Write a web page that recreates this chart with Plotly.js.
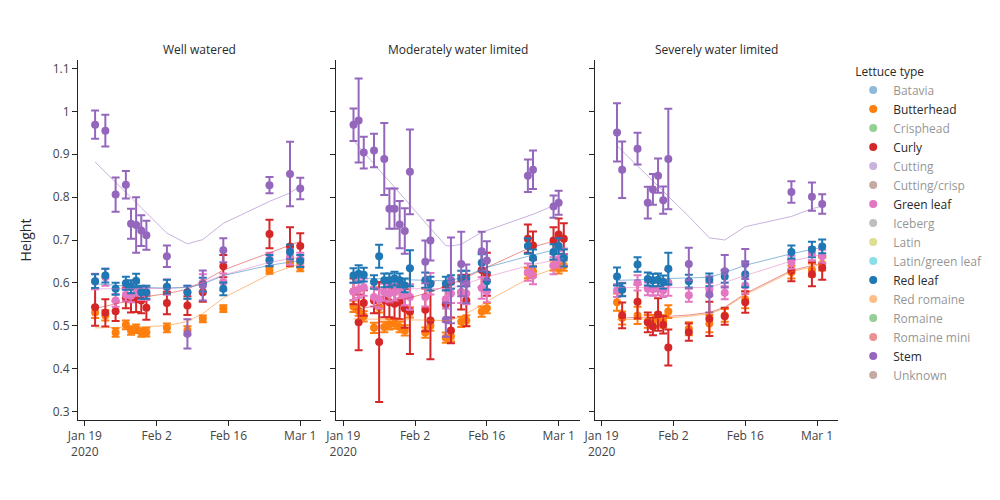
<!DOCTYPE html>
<html>
<head>
<meta charset="utf-8">
<script src="https://cdn.plot.ly/plotly-3.0.1.min.js"></script>
<style>html,body{margin:0;padding:0;background:#fff}</style>
</head>
<body>
<div id="chart" style="width:1000px;height:500px"></div>
<script>
// ---------- categories ----------
const lettuceTypes = ['Batavia','Butterhead','Crisphead','Curly','Cutting','Cutting/crisp','Green leaf','Iceberg','Latin','Latin/green leaf','Red leaf','Red romaine','Romaine','Romaine mini','Stem','Unknown'];
const typeColors = ['#1f77b4','#ff7f0e','#2ca02c','#d62728','#9467bd','#8c564b','#e377c2','#7f7f7f','#bcbd22','#17becf','#1f77b4','#ff7f0e','#2ca02c','#d62728','#9467bd','#8c564b'];
const facetTitles = ['Well watered','Moderately water limited','Severely water limited'];

// ---------- Well watered ----------
const wwDates = ['2020-01-21','2020-01-23','2020-01-25','2020-01-27','2020-01-28','2020-01-29','2020-01-30','2020-01-31','2020-02-04','2020-02-08','2020-02-11','2020-02-15','2020-02-24','2020-02-28','2020-03-01'];
const wwButterhead      = [0.531,0.524,0.484,0.502,0.489,0.493,0.484,0.485,0.495,0.489,0.516,0.540,0.629,0.648,0.637];
const wwButterheadErr   = [0.013,0.012,0.010,0.010,0.010,0.010,0.010,0.010,0.010,0.010,0.008,0.008,0.008,0.010,0.010];
const wwButterheadTrend = [0.495,0.495,0.496,0.497,0.497,0.497,0.497,0.498,0.500,0.510,0.528,0.565,0.620,0.637,0.645];
const wwCurly      = [0.543,0.530,0.534,0.565,0.561,0.562,0.559,0.542,0.553,0.547,0.578,0.639,0.714,0.685,0.686];
const wwCurlyErr   = [0.043,0.032,0.023,0.024,0.030,0.030,0.030,0.028,0.026,0.022,0.022,0.026,0.033,0.045,0.030];
const wwCurlyTrend = [0.540,0.545,0.550,0.556,0.559,0.562,0.565,0.568,0.575,0.585,0.603,0.630,0.670,0.688,0.697];
const wwGreen      = [0.603,0.613,0.559,0.572,0.570,0.585,0.575,0.575,0.590,0.578,0.600,0.602,0.655,0.660,0.655];
const wwGreenErr   = [0.018,0.020,0.015,0.015,0.015,0.015,0.015,0.015,0.018,0.015,0.020,0.020,0.015,0.018,0.015];
const wwGreenTrend = [0.586,0.586,0.586,0.586,0.586,0.586,0.586,0.586,0.587,0.590,0.600,0.618,0.648,0.656,0.660];
const wwRed      = [0.604,0.617,0.586,0.599,0.591,0.605,0.578,0.578,0.591,0.578,0.596,0.586,0.652,0.672,0.651];
const wwRedErr   = [0.016,0.016,0.014,0.015,0.015,0.016,0.015,0.015,0.016,0.015,0.016,0.015,0.013,0.017,0.014];
const wwRedTrend = [0.598,0.596,0.594,0.592,0.591,0.590,0.589,0.589,0.588,0.589,0.597,0.617,0.641,0.648,0.652];
const wwStem      = [0.969,0.955,0.806,0.829,0.738,0.735,0.722,0.711,0.662,0.481,0.594,0.676,0.828,0.854,0.820];
const wwStemErr   = [0.033,0.037,0.040,0.032,0.035,0.065,0.036,0.034,0.025,0.034,0.035,0.028,0.019,0.075,0.025];
const wwStemTrend = [0.882,0.858,0.835,0.811,0.799,0.787,0.775,0.763,0.716,0.691,0.701,0.739,0.790,0.810,0.826];

// ---------- Moderately water limited ----------
const mwlDates = ['2020-01-21','2020-01-22','2020-01-23','2020-01-25','2020-01-26','2020-01-27','2020-01-28','2020-01-29','2020-01-30','2020-01-31','2020-02-01','2020-02-04','2020-02-05','2020-02-08','2020-02-09','2020-02-11','2020-02-12','2020-02-15','2020-02-16','2020-02-24','2020-02-25','2020-02-29','2020-03-01','2020-03-02'];
const mwlButterhead      = [0.545,0.535,0.522,0.495,0.543,0.497,0.503,0.505,0.497,0.489,0.531,0.484,0.500,0.472,0.475,0.509,0.512,0.533,0.541,0.623,0.627,0.641,0.634,0.640];
const mwlButterheadErr   = [0.013,0.012,0.012,0.012,0.012,0.012,0.012,0.012,0.012,0.012,0.012,0.012,0.012,0.012,0.012,0.012,0.012,0.012,0.012,0.012,0.012,0.012,0.012,0.012];
const mwlButterheadTrend = [0.516,0.516,0.516,0.515,0.515,0.515,0.515,0.514,0.514,0.514,0.514,0.513,0.513,0.512,0.513,0.522,0.528,0.548,0.557,0.610,0.616,0.632,0.637,0.641];
const mwlCurly      = [0.580,0.508,0.553,0.559,0.462,0.560,0.555,0.551,0.555,0.540,0.534,0.537,0.512,0.550,0.489,0.578,0.559,0.630,0.620,0.703,0.687,0.699,0.713,0.703];
const mwlCurlyErr   = [0.030,0.065,0.030,0.030,0.140,0.040,0.035,0.035,0.040,0.045,0.100,0.050,0.090,0.040,0.030,0.040,0.060,0.040,0.050,0.033,0.033,0.031,0.037,0.036];
const mwlCurlyTrend = [0.537,0.539,0.541,0.545,0.548,0.551,0.553,0.556,0.559,0.562,0.565,0.575,0.579,0.592,0.597,0.607,0.613,0.630,0.636,0.680,0.684,0.697,0.700,0.703];
const mwlGreen      = [0.580,0.585,0.590,0.567,0.562,0.578,0.575,0.578,0.584,0.570,0.567,0.567,0.598,0.562,0.575,0.578,0.575,0.588,0.580,0.625,0.617,0.640,0.655,0.660];
const mwlGreenErr   = [0.020,0.020,0.020,0.022,0.022,0.020,0.020,0.020,0.020,0.022,0.030,0.022,0.025,0.022,0.022,0.025,0.025,0.025,0.025,0.020,0.020,0.020,0.020,0.020];
const mwlGreenTrend = [0.588,0.588,0.588,0.587,0.587,0.587,0.587,0.587,0.586,0.586,0.586,0.586,0.586,0.586,0.587,0.595,0.599,0.610,0.614,0.640,0.643,0.652,0.655,0.657];
const mwlRed      = [0.617,0.621,0.619,0.602,0.662,0.606,0.606,0.610,0.606,0.594,0.634,0.606,0.598,0.598,0.602,0.610,0.610,0.647,0.604,0.686,0.658,0.672,0.686,0.658];
const mwlRedErr   = [0.017,0.020,0.016,0.016,0.027,0.016,0.016,0.016,0.016,0.016,0.042,0.018,0.016,0.016,0.016,0.018,0.018,0.020,0.020,0.018,0.020,0.018,0.018,0.020];
const mwlRedTrend = [0.612,0.611,0.611,0.610,0.610,0.609,0.609,0.608,0.608,0.607,0.607,0.606,0.605,0.605,0.606,0.612,0.616,0.632,0.636,0.662,0.665,0.676,0.679,0.682];
const mwlStemDates = ['2020-01-21','2020-01-22','2020-01-23','2020-01-25','2020-01-27','2020-01-28','2020-01-29','2020-01-30','2020-01-31','2020-02-01','2020-02-04','2020-02-05','2020-02-08','2020-02-09','2020-02-11','2020-02-12','2020-02-15','2020-02-16','2020-02-24','2020-02-25','2020-02-29','2020-03-01'];
const mwlStem      = [0.969,0.979,0.904,0.909,0.889,0.773,0.773,0.736,0.721,0.859,0.649,0.699,0.514,0.606,0.644,0.598,0.674,0.652,0.850,0.864,0.778,0.787];
const mwlStemErr   = [0.038,0.098,0.037,0.039,0.084,0.047,0.047,0.055,0.053,0.099,0.050,0.047,0.040,0.100,0.075,0.045,0.045,0.045,0.038,0.045,0.026,0.028];
const mwlStemTrend = [0.932,0.918,0.905,0.878,0.850,0.837,0.823,0.810,0.796,0.782,0.741,0.727,0.687,0.686,0.690,0.697,0.718,0.722,0.755,0.760,0.780,0.788];

// ---------- Severely water limited ----------
const swlDates = ['2020-01-22','2020-01-23','2020-01-26','2020-01-28','2020-01-29','2020-01-30','2020-01-31','2020-02-01','2020-02-05','2020-02-09','2020-02-12','2020-02-16','2020-02-25','2020-02-29','2020-03-02'];
const swlButterhead      = [0.555,0.518,0.524,0.510,0.510,0.515,0.510,0.533,0.493,0.505,0.524,0.561,0.625,0.630,0.644];
const swlButterheadErr   = [0.020,0.015,0.020,0.015,0.015,0.015,0.015,0.015,0.015,0.020,0.015,0.020,0.015,0.015,0.015];
const swlButterheadTrend = [0.514,0.514,0.515,0.516,0.516,0.517,0.517,0.518,0.522,0.528,0.541,0.572,0.626,0.637,0.643];
const swlCurlyDates = ['2020-01-23','2020-01-26','2020-01-28','2020-01-29','2020-01-30','2020-01-31','2020-02-01','2020-02-05','2020-02-09','2020-02-12','2020-02-16','2020-02-25','2020-02-29','2020-03-02'];
const swlCurly      = [0.524,0.556,0.508,0.498,0.526,0.502,0.449,0.485,0.516,0.522,0.555,0.629,0.620,0.635];
const swlCurlyErr   = [0.030,0.040,0.023,0.020,0.038,0.020,0.042,0.020,0.040,0.020,0.025,0.025,0.028,0.028];
const swlCurlyTrend = [0.518,0.519,0.520,0.520,0.521,0.521,0.522,0.525,0.531,0.543,0.575,0.629,0.640,0.646];
const swlGreen      = [0.582,0.585,0.600,0.586,0.585,0.586,0.582,0.600,0.571,0.585,0.577,0.594,0.648,0.668,0.662];
const swlGreenErr   = [0.015,0.015,0.018,0.015,0.015,0.015,0.015,0.030,0.015,0.015,0.015,0.020,0.015,0.015,0.015];
const swlGreenTrend = [0.589,0.589,0.589,0.589,0.589,0.589,0.589,0.589,0.589,0.589,0.601,0.617,0.651,0.661,0.666];
const swlRed      = [0.615,0.584,0.643,0.609,0.606,0.607,0.602,0.633,0.604,0.607,0.615,0.620,0.672,0.678,0.685];
const swlRedErr   = [0.021,0.015,0.017,0.015,0.015,0.015,0.015,0.037,0.015,0.015,0.015,0.030,0.015,0.018,0.016];
const swlRedTrend = [0.606,0.606,0.607,0.608,0.608,0.609,0.609,0.610,0.611,0.613,0.624,0.641,0.668,0.678,0.683];
const swlStem      = [0.951,0.864,0.913,0.787,0.818,0.850,0.793,0.889,0.644,0.573,0.627,0.644,0.812,0.801,0.784];
const swlStemErr   = [0.068,0.066,0.037,0.037,0.036,0.040,0.032,0.117,0.038,0.042,0.038,0.035,0.025,0.033,0.023];
const swlStemTrend = [0.920,0.908,0.873,0.849,0.838,0.826,0.814,0.802,0.755,0.705,0.700,0.731,0.755,0.773,0.779];

// ---------- assemble ----------
const seriesByType = {
  'Butterhead': [[wwDates,wwButterhead,wwButterheadErr,wwButterheadTrend],[mwlDates,mwlButterhead,mwlButterheadErr,mwlButterheadTrend],[swlDates,swlButterhead,swlButterheadErr,swlButterheadTrend]],
  'Curly': [[wwDates,wwCurly,wwCurlyErr,wwCurlyTrend],[mwlDates,mwlCurly,mwlCurlyErr,mwlCurlyTrend],[swlCurlyDates,swlCurly,swlCurlyErr,swlCurlyTrend]],
  'Green leaf': [[wwDates,wwGreen,wwGreenErr,wwGreenTrend],[mwlDates,mwlGreen,mwlGreenErr,mwlGreenTrend],[swlDates,swlGreen,swlGreenErr,swlGreenTrend]],
  'Red leaf': [[wwDates,wwRed,wwRedErr,wwRedTrend],[mwlDates,mwlRed,mwlRedErr,mwlRedTrend],[swlDates,swlRed,swlRedErr,swlRedTrend]],
  'Stem': [[wwDates,wwStem,wwStemErr,wwStemTrend],[mwlStemDates,mwlStem,mwlStemErr,mwlStemTrend],[swlDates,swlStem,swlStemErr,swlStemTrend]]
};
const axisIds = [['x','y'],['x2','y2'],['x3','y3']];

const traces = [];
const lineTraces = [];
lettuceTypes.forEach((t, i) => {
  const col = typeColors[i];
  const s = seriesByType[t];
  if (!s) {
    // type present in the legend but switched off (no marks drawn)
    traces.push({type:'scatter', mode:'markers', name:t, legendgroup:t, showlegend:true,
      x:[wwDates[0]], y:[null], marker:{color:col, size:8}, visible:'legendonly'});
    return;
  }
  s.forEach((p, k) => {
    traces.push({type:'scatter', mode:'markers', name:t, legendgroup:t, showlegend:k===0,
      x:p[0], y:p[1], xaxis:axisIds[k][0], yaxis:axisIds[k][1],
      marker:{color:col, size:8},
      error_y:{type:'data', array:p[2], visible:true, color:col, thickness:2, width:4}});
    lineTraces.push({type:'scatter', mode:'lines', name:t, legendgroup:t, showlegend:false,
      x:p[0], y:p[3], xaxis:axisIds[k][0], yaxis:axisIds[k][1],
      line:{color:col, width:1}, opacity:0.5, hoverinfo:'skip'});
  });
});

const xCommon = {type:'date', range:['2020-01-17 16:00','2020-03-05 02:00'], tick0:'2020-01-19', dtick:14*86400000,
  showline:true, linecolor:'rgb(36,36,36)', linewidth:1, ticks:'outside', ticklen:5, tickcolor:'rgb(36,36,36)',
  showgrid:false, zeroline:false, tickfont:{size:12, color:'#444'}};
const yCommon = {range:[0.28,1.12], tick0:0, dtick:0.1, showline:true, linecolor:'rgb(36,36,36)', linewidth:1,
  ticks:'outside', ticklen:5, tickcolor:'rgb(36,36,36)', showgrid:false, zeroline:false, tickfont:{size:12, color:'#444'}};

const annotations = facetTitles.map((txt, k) => ({text:txt, xref:(k===0?'x':'x'+(k+1))+' domain', yref:'paper',
  x:0.5, y:1, xanchor:'center', yanchor:'bottom', showarrow:false, font:{size:12, color:'#2a2a2a'}}));

const layout = {
  width:1000, height:500,
  margin:{l:78, r:162, t:60, b:80},
  paper_bgcolor:'#fff', plot_bgcolor:'#fff',
  font:{family:'"Open Sans", sans-serif', size:12, color:'#2a2a2a'},
  showlegend:true,
  legend:{title:{text:'Lettuce type', font:{size:12}}, tracegroupgap:0, font:{size:12}},
  xaxis: Object.assign({}, xCommon, {domain:[0,0.32], anchor:'y'}),
  xaxis2: Object.assign({}, xCommon, {domain:[0.34,0.66], anchor:'y2', matches:'x'}),
  xaxis3: Object.assign({}, xCommon, {domain:[0.68,1], anchor:'y3', matches:'x'}),
  yaxis: Object.assign({}, yCommon, {anchor:'x', title:{text:'Height', standoff:17, font:{size:14, color:'#2a2a2a'}}}),
  yaxis2: Object.assign({}, yCommon, {anchor:'x2', matches:'y', showticklabels:false}),
  yaxis3: Object.assign({}, yCommon, {anchor:'x3', matches:'y', showticklabels:false}),
  annotations: annotations
};

Plotly.newPlot('chart', traces.concat(lineTraces), layout, {displayModeBar:false});
</script>
</body>
</html>
